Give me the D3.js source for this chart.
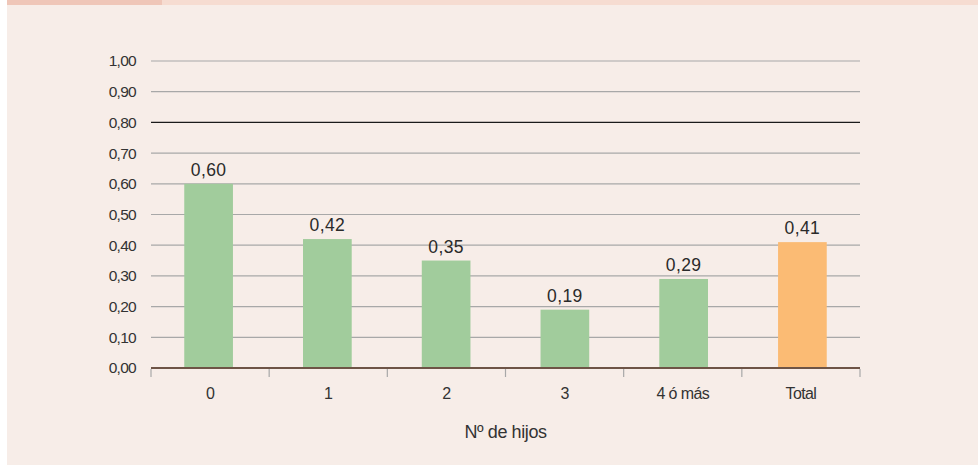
<!DOCTYPE html>
<html>
<head>
<meta charset="utf-8">
<script src="https://cdn.jsdelivr.net/npm/d3@7"></script>
<style>
  body { margin: 0; background: #ffffff; }
  svg { display: block; font-family: "Liberation Sans", Arial, sans-serif; }
</style>
</head>
<body>
<script>
const WIDTH = 978
const HEIGHT = 466

// data
const categories = ["0", "1", "2", "3", "4 ó más", "Total"]
const values = [0.60, 0.42, 0.35, 0.19, 0.29, 0.41]
const yTicks = [0, 0.1, 0.2, 0.3, 0.4, 0.5, 0.6, 0.7, 0.8, 0.9, 1.0]
const xTitle = "Nº de hijos"

const svg = d3.select("body")
    .append("svg")
    .attr("width", WIDTH)
    .attr("height", HEIGHT)

// fond
svg.append("rect").attr("x", 7).attr("y", 0).attr("width", WIDTH - 7).attr("height", 465).attr("fill", "#f7ede8")
svg.append("rect").attr("x", 7).attr("y", 0).attr("width", WIDTH - 7).attr("height", 5).attr("fill", "#f6dcd1")
svg.append("rect").attr("x", 7).attr("y", 0).attr("width", 155).attr("height", 5).attr("fill", "#efc6b8")

const mLeft = 151, mRight = 860, mTop = 61, mBottom = 368

const x = d3.scaleBand().domain(categories).range([mLeft, mRight]).paddingInner(0.59).paddingOuter(0.28)
const xb = d3.scaleBand().domain(categories).range([mLeft, mRight])
const y = d3.scaleLinear().domain([0, 1]).range([mBottom, mTop])

const fmt = d => d3.format(".2f")(d).replace(".", ",")

// grille
svg.append("g").selectAll("line")
    .data(yTicks.filter(d => d > 0))
    .enter().append("line")
    .attr("x1", mLeft).attr("x2", mRight)
    .attr("y1", d => y(d)).attr("y2", d => y(d))
    .attr("stroke", d => Math.abs(d - 0.8) < 1e-9 ? "#1a1a1a" : "#a8a8a8")
    .attr("stroke-width", 1.2)

// axe y
const yAxis = svg.append("g")
    .attr("transform", `translate(${mLeft},0)`)
    .call(d3.axisLeft(y).tickValues(yTicks).tickFormat(fmt).tickSize(0).tickPadding(15))
yAxis.select(".domain").remove()
yAxis.selectAll("text")
    .style("font-size", "15.5px").attr("fill", "#333").attr("letter-spacing", -0.7)
    .attr("font-family", "Liberation Sans, Arial, sans-serif")

// barres
svg.append("g").selectAll("rect")
    .data(values)
    .enter().append("rect")
    .attr("x", (d, i) => x(categories[i]))
    .attr("y", d => y(d))
    .attr("width", x.bandwidth())
    .attr("height", d => y(0) - y(d))
    .attr("fill", (d, i) => i === categories.length - 1 ? "#fbbb74" : "#a1cc9c")

// étiquettes valeurs
svg.append("g").selectAll("text")
    .data(values)
    .enter().append("text")
    .attr("x", (d, i) => x(categories[i]) + x.bandwidth() / 2)
    .attr("y", d => y(d) - 8)
    .attr("text-anchor", "middle")
    .attr("font-size", 17.5)
    .attr("fill", "#2a2a2a")
    .attr("letter-spacing", 0.4)
    .text(d => fmt(d))

// axe x
const xAxis = svg.append("g")
    .attr("transform", `translate(0,${mBottom})`)
    .call(d3.axisBottom(xb).tickSize(0).tickPadding(20))
xAxis.select(".domain").attr("stroke", "#6e5446").attr("stroke-width", 2).attr("d", `M${mLeft},0H${mRight}`)
xAxis.selectAll("text").style("font-size", "16px").attr("fill", "#333").attr("letter-spacing", -0.6)
    .attr("font-family", "Liberation Sans, Arial, sans-serif")

// petites graduations entre catégories
svg.append("g").selectAll("line")
    .data(d3.range(categories.length + 1))
    .enter().append("line")
    .attr("x1", i => mLeft + i * xb.step()).attr("x2", i => mLeft + i * xb.step())
    .attr("y1", mBottom + 1).attr("y2", mBottom + 9)
    .attr("stroke", "#a8a8a8").attr("stroke-width", 1.2)

// titre axe x
svg.append("text")
    .attr("x", (mLeft + mRight) / 2)
    .attr("y", 438)
    .attr("text-anchor", "middle")
    .attr("font-size", 18)
    .attr("fill", "#333")
    .attr("letter-spacing", -0.4)
    .text(xTitle)
</script>
</body>
</html>
